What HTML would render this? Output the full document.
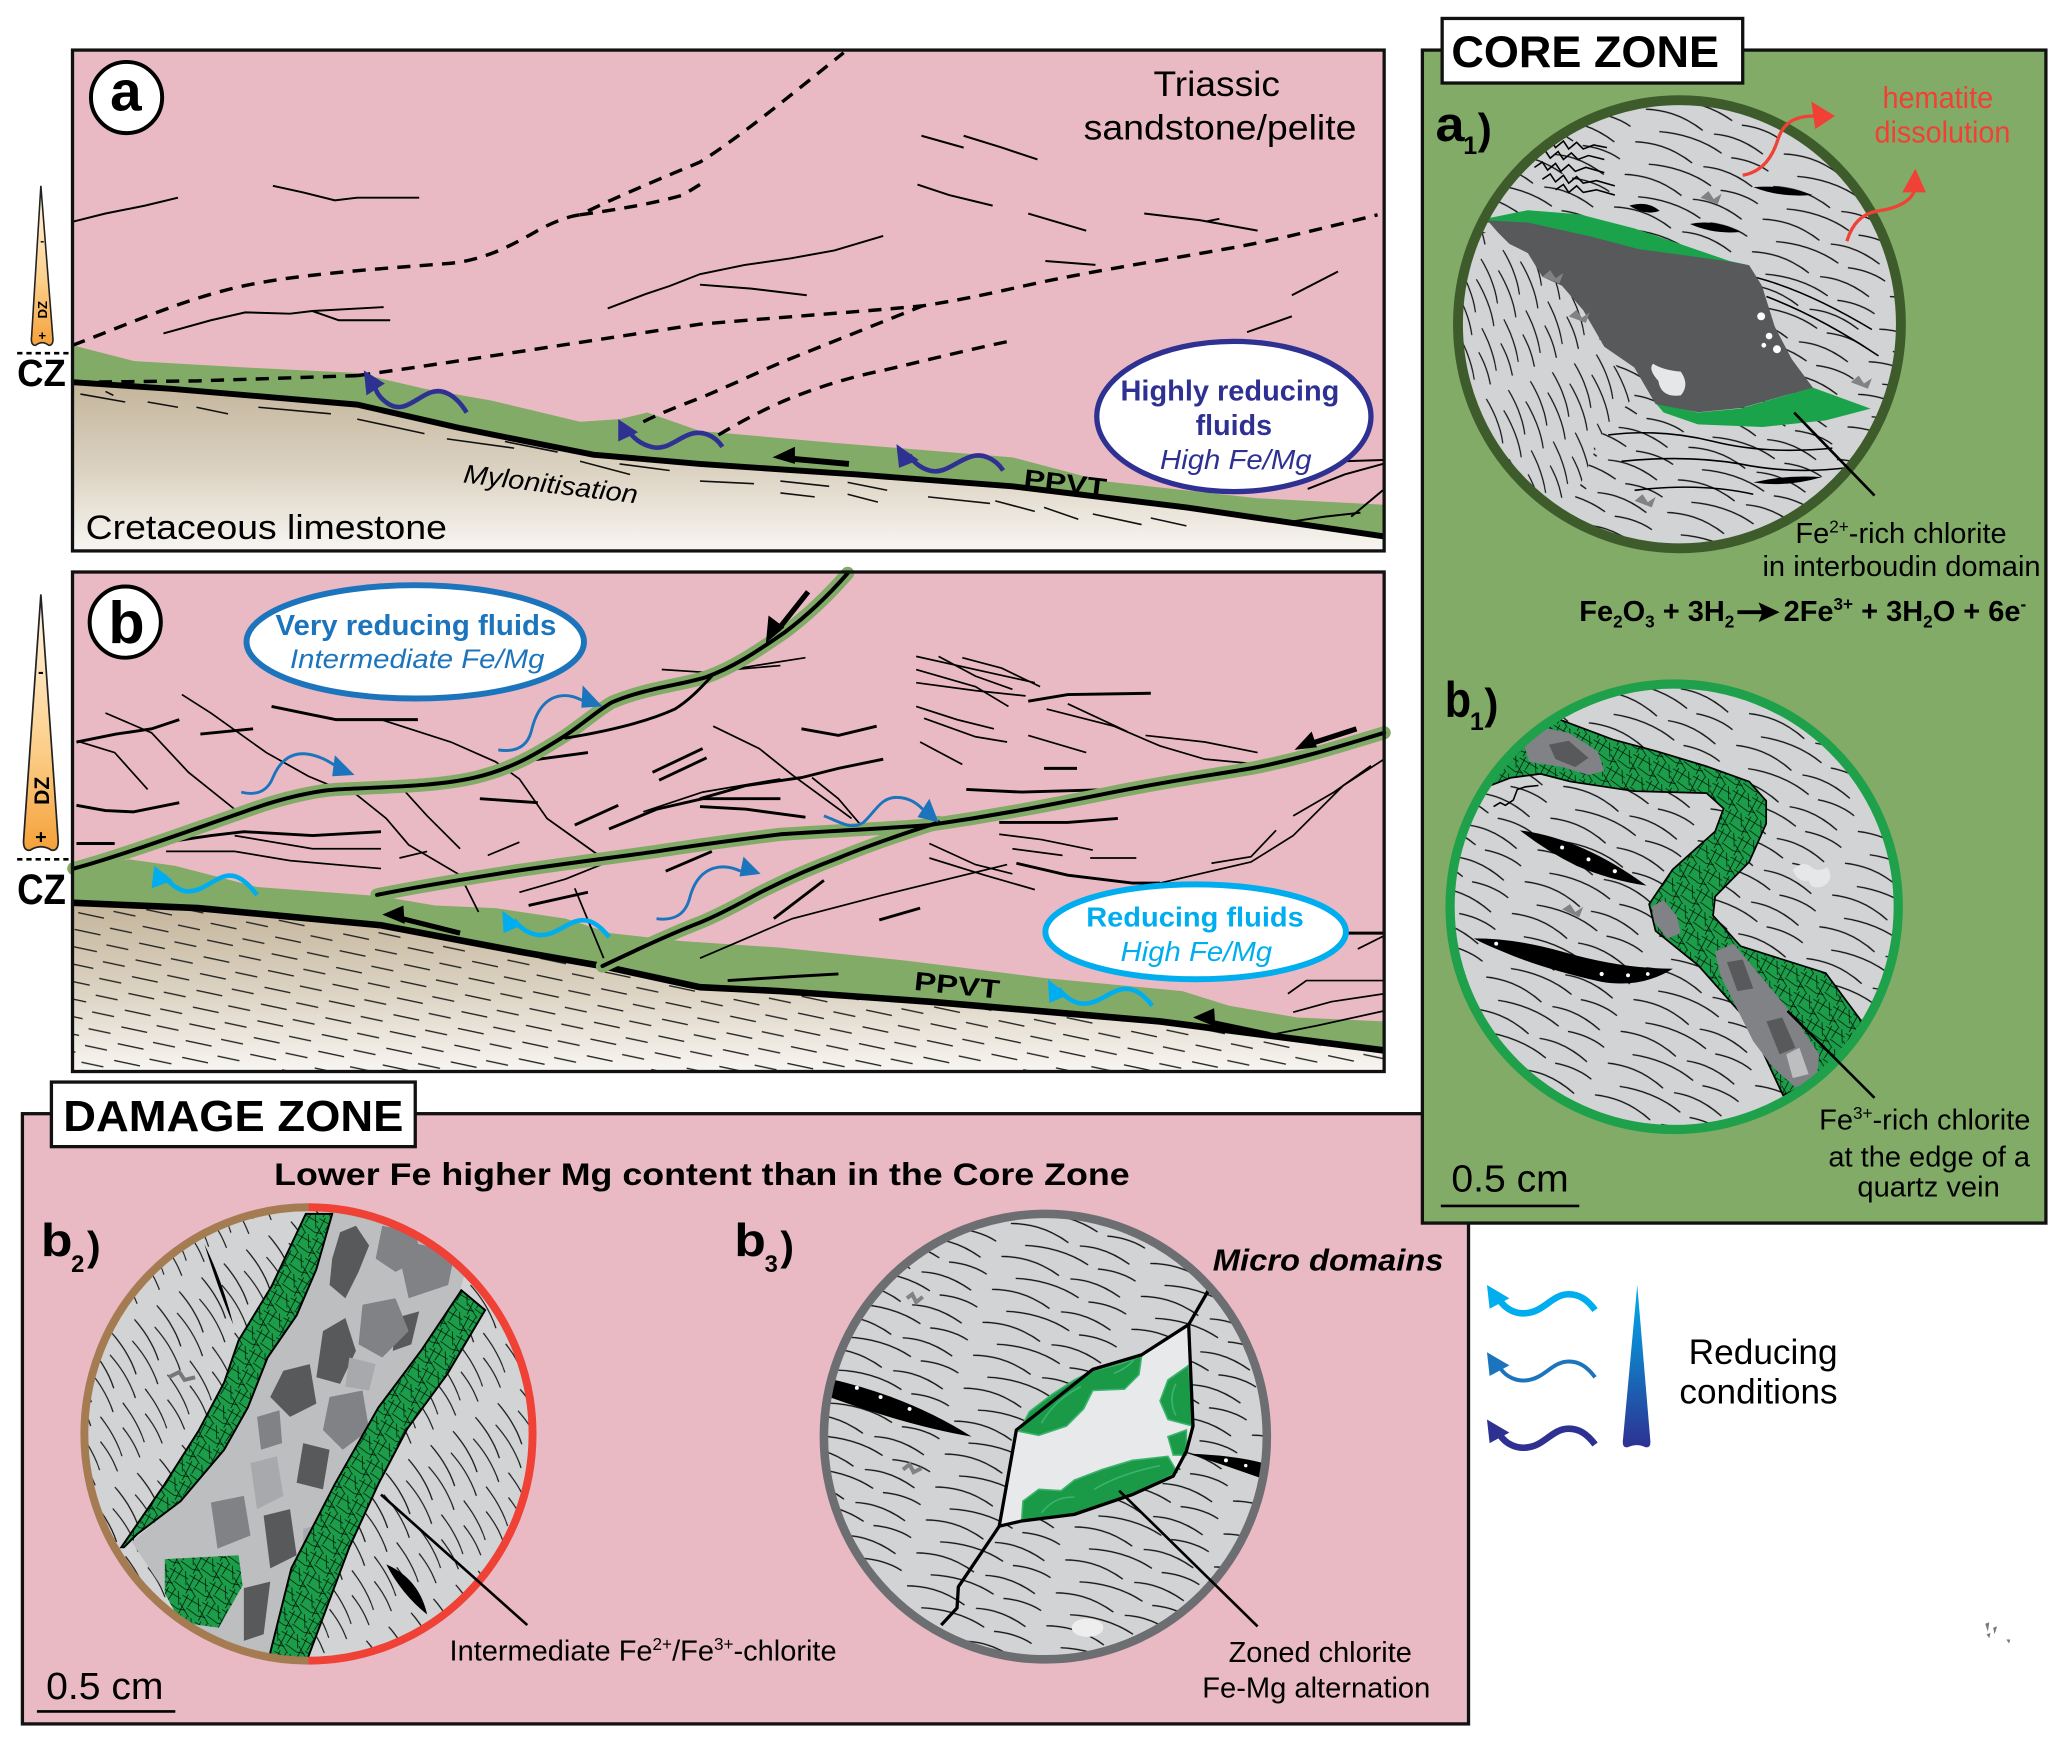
<!DOCTYPE html>
<html><head><meta charset="utf-8"><style>
html,body{margin:0;padding:0;background:#fff;}
svg{display:block;}
text{font-family:"Liberation Sans",Arial,sans-serif;}
</style></head><body>
<svg width="2067" height="1745" viewBox="0 0 1568 1324" preserveAspectRatio="none" xmlns="http://www.w3.org/2000/svg">
<defs>
<linearGradient id="limA" x1="0" y1="290" x2="0" y2="418" gradientUnits="userSpaceOnUse"><stop offset="0" stop-color="#c4b59b"/><stop offset="0.55" stop-color="#ddd4c4"/><stop offset="1" stop-color="#f8f6f2"/></linearGradient>
<linearGradient id="limB" x1="0" y1="685" x2="0" y2="813" gradientUnits="userSpaceOnUse"><stop offset="0" stop-color="#c4b59b"/><stop offset="0.55" stop-color="#ddd4c4"/><stop offset="1" stop-color="#f8f6f2"/></linearGradient>
<linearGradient id="wdg" x1="0" y1="0" x2="0" y2="1"><stop offset="0" stop-color="#fff6e6"/><stop offset="0.6" stop-color="#fccf8a"/><stop offset="1" stop-color="#f5a13a"/></linearGradient>
<linearGradient id="cone" x1="0" y1="0" x2="0" y2="1"><stop offset="0" stop-color="#00aeef"/><stop offset="0.45" stop-color="#1279c4"/><stop offset="1" stop-color="#2e3192"/></linearGradient>
<pattern id="lmd" width="50" height="13" patternUnits="userSpaceOnUse" patternTransform="rotate(12)"><path d="M2,2 h20 M28,8.5 h17" stroke="#222" stroke-width="1" fill="none"/></pattern>
<pattern id="wv18" width="110" height="26" patternUnits="userSpaceOnUse" patternTransform="rotate(18)"><path d="M3,5 c14,-4 30,-4 46,2 M58,7 c12,-3 26,-2 40,3 M18,18 c16,-4 34,-4 50,1 M76,20 c10,-2 20,-2 30,1" fill="none" stroke="#111" stroke-width="1"/></pattern>
<pattern id="wv22" width="110" height="26" patternUnits="userSpaceOnUse" patternTransform="rotate(22)"><path d="M3,5 c14,-4 30,-4 46,2 M58,7 c12,-3 26,-2 40,3 M18,18 c16,-4 34,-4 50,1 M76,20 c10,-2 20,-2 30,1" fill="none" stroke="#111" stroke-width="1"/></pattern>
<pattern id="wv16" width="110" height="26" patternUnits="userSpaceOnUse" patternTransform="rotate(16)"><path d="M3,5 c14,-4 30,-4 46,2 M58,7 c12,-3 26,-2 40,3 M18,18 c16,-4 34,-4 50,1 M76,20 c10,-2 20,-2 30,1" fill="none" stroke="#111" stroke-width="1"/></pattern>
<pattern id="wv58" width="100" height="20" patternUnits="userSpaceOnUse" patternTransform="rotate(58)"><path d="M3,4 c12,-2 24,-2 36,1 M52,5 c10,-1 22,-1 34,2 M16,14 c12,-2 26,-2 38,1 M68,15 c8,-1 16,-1 26,1" fill="none" stroke="#111" stroke-width="0.9"/></pattern>
<pattern id="wv65" width="100" height="18" patternUnits="userSpaceOnUse" patternTransform="rotate(68)"><path d="M3,4 c12,-2 24,-2 36,1 M52,5 c10,-1 22,-1 34,2 M16,13 c12,-2 26,-2 38,1 M68,14 c8,-1 16,-1 26,1" fill="none" stroke="#111" stroke-width="0.9"/></pattern>
<pattern id="ht" width="16" height="16" patternUnits="userSpaceOnUse" patternTransform="rotate(20)"><rect width="16" height="16" fill="#1b9d49"/><path d="M0,2 L16,5 M0,8 L10,16 M4,0 L2,16 M12,0 L16,10 M6,10 L16,13 M9,0 L7,9 M0,13 L6,12" stroke="#000" stroke-width="0.5" fill="none"/></pattern>
<clipPath id="cA1"><ellipse cx="1274" cy="246" rx="168" ry="170"/></clipPath>
<clipPath id="cB1"><ellipse cx="1270" cy="688" rx="170" ry="169"/></clipPath>
<clipPath id="cB2"><ellipse cx="234" cy="1088" rx="168" ry="170"/></clipPath>
<clipPath id="cB3"><ellipse cx="793" cy="1090" rx="168" ry="169"/></clipPath>
</defs>

<rect width="1568" height="1324" fill="#fff"/>

<!-- ================= PANEL A ================= -->
<rect x="55" y="38" width="995" height="380" fill="#e9bac4"/>
<path d="M55,290 L130,295 L271,307 L350,325 L450,345 L531,352 L650,360 L768,369 L900,385 L1050,407 L1050,418 L55,418 Z" fill="url(#limA)"/>
<path d="M55,262 L102,274 L190,279 L271,283 L322,295 L373,304 L440,320 L470,318 L491,313 L531,327 L633,336 L768,347 L836,365 L954,378 L1050,383 L1050,407 L900,385 L768,369 L650,360 L531,352 L450,345 L350,325 L271,307 L130,295 L55,290 Z" fill="#82ab67"/>
<g stroke="#111" stroke-width="1.2" fill="none">
<path d="M61,299 L95,305 M112,305 L135,309 M149,309 L173,314 M196,309 L251,314 M271,318 L322,329 M339,333 L390,340 M383,335 L423,343 M440,350 L478,360 M470,352 L508,357 M531,365 L572,367 M592,365 L629,369 M643,366 L673,372 M643,375 L666,381 M704,377 L751,382 M755,380 L785,388 M792,385 L818,394 M829,390 L866,398 M873,393 L900,399 M592,374 L618,377 M80,297 L86,300"/>
</g>
<path d="M55,290 L130,295 L271,307 L350,325 L450,345 L531,352 L650,360 L768,369 L900,385 L1050,407" stroke="#000" stroke-width="4.5" fill="none"/>
<g stroke="#000" stroke-width="2.6" fill="none" stroke-dasharray="10 7">
<path d="M55,262 C100,245 150,222 200,214 C240,207 300,203 339,200 C365,198 385,188 406,176 C420,168 432,164 440,163 C460,153 490,140 531,123 C560,105 600,72 640,40"/>
<path d="M440,163 C460,160 490,156 518,148 L531,140"/>
<path d="M58,290 L150,289 L271,285"/>
<path d="M271,285 C350,274 450,258 531,246 C600,240 660,236 700,232 C740,226 770,218 800,212 C860,200 930,190 970,181 C1000,174 1025,168 1045,163"/>
<path d="M488,320 C500,314 515,308 531,302 C560,290 580,280 600,272 C640,256 670,244 700,232"/>
<path d="M545,330 C565,318 585,308 600,302 C625,292 650,285 670,281 C700,274 740,264 770,258"/>
</g>
<g stroke="#000" stroke-width="1.5" fill="none">
<path d="M56,168 L80,162 L110,156 L135,150"/>
<path d="M207,141 L230,146 L254,152 L271,150 L318,150"/>
<path d="M124,253 L160,243 L186,237 L220,238 L237,236 L291,233"/>
<path d="M237,236 L257,243 L296,243"/>
<path d="M461,234 L490,223 L508,217 L531,208 L565,201 L600,196 L633,190 L670,179"/>
<path d="M531,216 L570,219 L612,224"/>
<path d="M699,103 L731,112"/><path d="M731,103 L760,112 L787,121"/>
<path d="M696,140 L720,148 L753,156"/><path d="M780,162 L824,175"/>
<path d="M868,162 L910,167 L954,175 M915,168 L925,166"/>
<path d="M793,198 L831,201"/><path d="M980,224 L1015,206"/><path d="M946,252 L980,240"/>
<path d="M1019,350 L1049,349 M992,371 L1020,360 L1049,352 M978,396 L1005,392 L1032,389 M1025,392 L1049,372"/>
</g>
<path d="M644,352 L600,348" stroke="#000" stroke-width="4.5"/>
<polygon points="586,347 603,339 603,352" fill="#000"/>
<g stroke="#2e3192" stroke-width="3.5" fill="none">
<path d="M354,313 C346,300 336,294 326,298 C314,303 306,314 294,306 C288,302 285,297 284,292"/>
<path d="M548,339 C542,330 532,326 522,330 C512,334 505,342 494,339 C486,337 480,332 477,327"/>
<path d="M761,357 C755,348 745,343 735,347 C724,351 716,360 705,357 C698,355 692,350 690,345"/>
</g>
<g fill="#2e3192">
<polygon points="276,281 278,300 292,291"/>
<polygon points="469,318 469,335 484,328"/>
<polygon points="680,337 682,355 697,349"/>
</g>
<text x="776" y="369" font-size="19" font-weight="bold" transform="rotate(6.8 776 369)" textLength="63" lengthAdjust="spacingAndGlyphs">PPVT</text>
<text x="351" y="366" font-size="20" font-style="italic" transform="rotate(6.9 351 366)" textLength="133" lengthAdjust="spacingAndGlyphs">Mylonitisation</text>
<text x="65" y="409" font-size="26" textLength="274" lengthAdjust="spacingAndGlyphs">Cretaceous limestone</text>
<text x="875" y="73" font-size="27" textLength="96" lengthAdjust="spacingAndGlyphs">Triassic</text>
<text x="822" y="106" font-size="27" textLength="207" lengthAdjust="spacingAndGlyphs">sandstone/pelite</text>
<ellipse cx="936" cy="316" rx="104" ry="57" fill="#fff" stroke="#2e3192" stroke-width="4"/>
<text x="850" y="304" font-size="22" font-weight="bold" fill="#2e3192" textLength="166" lengthAdjust="spacingAndGlyphs">Highly reducing</text>
<text x="907" y="330" font-size="22" font-weight="bold" fill="#2e3192" textLength="58" lengthAdjust="spacingAndGlyphs">fluids</text>
<text x="880" y="356" font-size="21" font-style="italic" fill="#2e3192" textLength="115" lengthAdjust="spacingAndGlyphs">High Fe/Mg</text>
<circle cx="96" cy="74" r="27" fill="#fff" stroke="#000" stroke-width="3"/>
<text x="95.5" y="84" font-size="43" font-weight="bold" text-anchor="middle">a</text>
<rect x="55" y="38" width="995" height="380" fill="none" stroke="#111" stroke-width="2.5"/>

<path d="M31,141 L24,255 Q23,262 27,262 Q32,258 37,262 Q41,262 40,255 Z" fill="url(#wdg)" stroke="#222" stroke-width="1.2"/>
<text x="32" y="186" font-size="9" text-anchor="middle" font-weight="bold">-</text>
<text x="0" y="0" font-size="10" font-weight="bold" text-anchor="middle" transform="translate(35.5 235) rotate(-90)">DZ</text>
<text x="32" y="258" font-size="10" text-anchor="middle" font-weight="bold">+</text>
<path d="M13,268 L54,268" stroke="#000" stroke-width="2" stroke-dasharray="4 3"/>
<text x="13" y="293" font-size="29" font-weight="bold" textLength="37" lengthAdjust="spacingAndGlyphs">CZ</text>

<!-- ================= PANEL B ================= -->
<rect x="55" y="434" width="995" height="379" fill="#e9bac4"/>
<path d="M56,685 L150,689 L289,702 L394,722 L457,733 L531,749 L592,752 L705,760 L880,775 L1050,797 L1050,813 L55,813 Z" fill="url(#limB)"/>
<path d="M56,685 L150,689 L289,702 L394,722 L457,733 L531,749 L592,752 L705,760 L880,775 L1050,797 L1050,813 L55,813 Z" fill="url(#lmd)"/>
<path d="M56,660 L98,652 L133,657 L195,673 L289,680 L330,687 L376,689 L429,697 L463,708 L516,714 L592,719 L688,729 L792,742 L897,752 L932,763 L984,772 L1050,775 L1050,797 L880,775 L705,760 L592,752 L531,749 L457,733 L394,722 L289,702 L150,689 L56,685 Z" fill="#82ab67"/>
<path d="M56,685 L150,689 L289,702 L394,722 L457,733 L531,749 L592,752 L705,760 L880,775 L1050,797" stroke="#000" stroke-width="5" fill="none"/>
<g stroke="#000" stroke-width="2.2" fill="none">
<path d="M58,563 L88,557 L115,553 L136,546"/>
<path d="M152,557 L192,553"/>
<path d="M206,536 L235,542 L255,546 L317,546"/>
<path d="M58,611 L80,615 L101,616 L136,609"/>
<path d="M126,639 L160,634 L185,631 L237,634 L289,631"/>
<path d="M364,606 L408,609"/><path d="M394,578 L446,571"/><path d="M401,687 L446,677"/>
<path d="M436,626 L469,611"/>
<path d="M462,629 L498,614 L533,606 L592,606"/>
<path d="M495,586 L533,568 M500,592 L536,575"/>
<path d="M505,661 L540,646"/>
<path d="M608,553 L636,558 L665,551"/>
<path d="M531,606 L566,596 L608,590 L636,583 L670,576"/>
<path d="M531,612 L566,614 L611,620"/>
<path d="M780,532 L810,527 L873,526"/>
<path d="M792,583 L817,583"/>
<path d="M733,599 L775,601 L845,599"/>
<path d="M758,624 L810,624 L848,621"/>
<path d="M771,655 L810,664 L859,670 L880,670"/>
<path d="M625,668 L587,697"/><path d="M667,698 L698,689"/>
<path d="M1022,708 L1050,708"/>
<path d="M552,744 L600,741 L636,739"/>
<path d="M58,640 L87,640"/>
</g>
<g stroke="#000" stroke-width="1.3" fill="none">
<path d="M178,634 L237,644 L289,644"/>
<path d="M126,646 L178,646 L220,653 L289,659"/>
<path d="M488,616 L533,601 L592,591"/>
<path d="M502,508 L533,510 L592,505"/>
<path d="M370,649 L394,639"/><path d="M394,677 L429,667 L481,646"/><path d="M303,651 L324,646"/>
<path d="M531,512 L573,505 L611,499"/>
<path d="M977,754 L991,744 L1050,744"/><path d="M981,768 L1010,760 L1050,754"/><path d="M960,786 L1000,778 L1050,767"/>
<path d="M880,670 L949,654 L981,634 L1019,596 L1050,576"/>
<path d="M981,619 L1012,601 L1040,581"/>
<path d="M919,655 L949,650 L968,630"/>
<path d="M61,563 L87,571 L112,599"/>
<path d="M80,541 L115,556 L143,586 L178,614"/>
<path d="M138,527 L160,541 L202,571 L234,589 L258,599"/>
<path d="M289,546 L342,563 L376,578 L394,591 L415,621 L457,651"/>
<path d="M268,601 L293,621 L310,641 L349,664 L363,692"/>
<path d="M305,598 L324,619 L349,644"/>
<path d="M436,674 L460,732"/>
<path d="M541,551 L576,568 L601,588 L646,621"/>
<path d="M616,590 L636,606 L653,626"/>
<path d="M695,498 L740,508 L785,518"/><path d="M712,498 L740,513 L768,523"/><path d="M730,499 L760,507 L789,521"/>
<path d="M695,508 L740,521 L765,536"/><path d="M695,518 L740,524 L778,528"/>
<path d="M695,536 L726,546 L754,553"/><path d="M701,545 L740,559 L764,563"/>
<path d="M698,563 L730,580"/><path d="M780,558 L824,571"/>
<path d="M794,538 L845,551 L880,566 L914,576 L967,581"/><path d="M810,534 L855,555"/>
<path d="M869,558 L914,563 L954,571"/>
<path d="M758,633 L790,637 L829,645"/>
<path d="M705,651 L747,664 L785,675"/><path d="M705,640 L740,656 L768,663"/>
<path d="M531,727 L601,697 L670,679 L764,656"/>
<path d="M768,644 L806,649"/><path d="M827,651 L862,651"/>
<path d="M1030,720 L1050,710"/>
</g>
<g fill="none" stroke-linecap="round">
<g stroke="#82ab67" stroke-width="10">
<path d="M56,659 C90,650 150,628 185,616 C215,605 240,600 255,599 C290,597 330,597 360,590 C390,583 410,570 429,558 C445,547 455,538 464,533 C490,522 515,520 535,514 C560,505 580,490 595,480 C615,465 630,450 643,435"/>
<path d="M286,679 C320,672 359,666 390,661 C430,655 470,650 498,646 C530,641 560,637 592,633 C640,630 680,628 705,626 C760,618 800,610 845,601 C890,592 920,588 949,583 C990,575 1020,565 1050,556"/>
<path d="M457,733 C480,722 510,708 531,700 C555,690 570,680 583,674 C605,663 620,657 636,651 C660,641 690,631 712,624"/>
</g>
<g stroke="#000" stroke-width="3">
<path d="M56,659 C90,650 150,628 185,616 C215,605 240,600 255,599 C290,597 330,597 360,590 C390,583 410,570 429,558 C445,547 455,538 464,533 C490,522 515,520 535,514 C560,505 580,490 595,480 C615,465 630,450 643,435"/>
<path d="M286,679 C320,672 359,666 390,661 C430,655 470,650 498,646 C530,641 560,637 592,633 C640,630 680,628 705,626 C760,618 800,610 845,601 C890,592 920,588 949,583 C990,575 1020,565 1050,556"/>
<path d="M457,733 C480,722 510,708 531,700 C555,690 570,680 583,674 C605,663 620,657 636,651 C660,641 690,631 712,624"/>
<path d="M429,560 C460,555 490,548 512,538 C525,530 535,518 540,513" stroke-width="2.2"/>
</g>
</g>
<g stroke="#000" stroke-width="4">
<path d="M613,449 L590,478"/><path d="M1029,553 L995,564"/><path d="M963,785 L920,776"/><path d="M349,708 L305,697"/>
</g>
<g fill="#000">
<polygon points="581,488 583,467 595,476"/>
<polygon points="982,569 995,555 999,567"/>
<polygon points="905,772 921,765 922,779"/>
<polygon points="290,694 306,687 307,701"/>
</g>
<g stroke="#1c75bc" stroke-width="2.2" fill="none">
<path d="M183,601 C195,604 203,600 207,590 C212,578 220,571 232,572 C242,573 250,578 256,582"/>
<path d="M378,569 C392,571 400,566 403,555 C406,542 412,530 425,528 C432,527 437,529 443,532"/>
<path d="M498,697 C512,699 520,693 523,682 C526,670 532,660 545,658 C552,657 557,659 562,661"/>
<path d="M625,619 C638,624 646,630 655,624 C664,616 668,605 680,605 C690,605 696,610 700,614"/>
</g>
<g fill="#1c75bc">
<polygon points="254,573 269,588 252,589"/>
<polygon points="442,520 457,536 441,537"/>
<polygon points="564,650 577,663 561,665"/>
<polygon points="705,606 712,624 696,620"/>
</g>
<g stroke="#00aeef" stroke-width="3.5" fill="none">
<path d="M195,679 C188,670 180,662 170,665 C160,668 152,678 140,676 C132,674 127,668 124,664"/>
<path d="M462,711 C455,702 447,696 437,699 C427,702 418,712 406,709 C398,707 393,702 390,698"/>
<path d="M874,763 C867,754 859,748 849,751 C839,754 830,764 818,761 C811,759 806,754 803,750"/>
</g>
<g fill="#00aeef">
<polygon points="117,657 115,674 131,668"/>
<polygon points="381,691 382,708 396,702"/>
<polygon points="795,743 796,761 810,755"/>
</g>
<text x="693" y="751" font-size="20" font-weight="bold" transform="rotate(6 693 751)" textLength="65" lengthAdjust="spacingAndGlyphs">PPVT</text>
<ellipse cx="315" cy="487" rx="128" ry="43" fill="#fff" stroke="#1c75bc" stroke-width="4.5"/>
<text x="209" y="482" font-size="22" font-weight="bold" fill="#1c75bc" textLength="213" lengthAdjust="spacingAndGlyphs">Very reducing fluids</text>
<text x="220" y="507" font-size="20" font-style="italic" fill="#1c75bc" textLength="193" lengthAdjust="spacingAndGlyphs">Intermediate Fe/Mg</text>
<ellipse cx="907" cy="707" rx="114" ry="36" fill="#fff" stroke="#00aeef" stroke-width="4.5"/>
<text x="824" y="703" font-size="21" font-weight="bold" fill="#00aeef" textLength="165" lengthAdjust="spacingAndGlyphs">Reducing fluids</text>
<text x="850" y="729" font-size="21" font-style="italic" fill="#00aeef" textLength="115" lengthAdjust="spacingAndGlyphs">High Fe/Mg</text>
<circle cx="95" cy="472" r="27" fill="#fff" stroke="#000" stroke-width="3"/>
<text x="96" y="488" font-size="45" font-weight="bold" text-anchor="middle">b</text>
<rect x="55" y="434" width="995" height="379" fill="none" stroke="#111" stroke-width="2.5"/>

<path d="M31,451 L18,636 Q17,646 23,645 Q31,640 39,645 Q45,646 44,636 Z" fill="url(#wdg)" stroke="#222" stroke-width="1.3"/>
<text x="31" y="514" font-size="13" text-anchor="middle" font-weight="bold">-</text>
<text x="0" y="0" font-size="16" font-weight="bold" text-anchor="middle" transform="translate(37 600) rotate(-90)">DZ</text>
<text x="31" y="640" font-size="15" text-anchor="middle" font-weight="bold">+</text>
<path d="M13,652 L54,652" stroke="#000" stroke-width="2" stroke-dasharray="4 3"/>
<text x="13" y="686" font-size="32" font-weight="bold" textLength="37" lengthAdjust="spacingAndGlyphs">CZ</text>

<!-- ================= DAMAGE ZONE ================= -->
<rect x="17" y="845" width="1097" height="463" fill="#e9bac4" stroke="#111" stroke-width="2.5"/>
<rect x="39" y="821" width="276" height="49" fill="#fff" stroke="#111" stroke-width="2.5"/>
<text x="48" y="858" font-size="33" font-weight="bold" textLength="258" lengthAdjust="spacingAndGlyphs">DAMAGE ZONE</text>
<text x="208" y="899" font-size="24" font-weight="bold" textLength="649" lengthAdjust="spacingAndGlyphs">Lower Fe higher Mg content than in the Core Zone</text>

<text x="31" y="953" font-size="35" font-weight="bold" textLength="24" lengthAdjust="spacingAndGlyphs">b</text>
<text x="54" y="965" font-size="18" font-weight="bold">2</text>
<text x="66" y="956" font-size="31" font-weight="bold">)</text>
<g clip-path="url(#cB2)">
<rect x="60" y="910" width="350" height="360" fill="#d1d3d4"/>
<rect x="60" y="910" width="350" height="360" fill="url(#wv58)"/>
<polygon points="252,915 360,940 349,979 320,1024 287,1068 254,1126 221,1190 203,1262 180,1262 140,1230 100,1170 136,1139 170,1100 188,1068 203,1030 225,998 240,963" fill="#bcbec0"/>
<g fill="#58595b">
<polygon points="258,935 270,930 280,945 272,965 262,985 250,975 252,955"/>
<polygon points="245,1010 262,1000 270,1025 258,1050 240,1045"/>
<polygon points="215,1040 235,1035 240,1065 220,1075 205,1060"/>
<polygon points="230,1095 250,1100 245,1130 225,1125"/>
<polygon points="200,1150 220,1145 225,1180 205,1190"/>
<polygon points="185,1205 205,1200 200,1240 185,1245"/>
<polygon points="300,1000 318,995 312,1020 298,1025"/>
</g>
<g fill="#808285">
<polygon points="290,930 315,935 320,955 300,965 285,955"/>
<polygon points="275,990 300,985 310,1010 290,1030 272,1020"/>
<polygon points="250,1060 275,1055 280,1085 260,1100 245,1085"/>
<polygon points="160,1140 185,1135 190,1165 165,1175"/>
<polygon points="215,1210 230,1205 225,1245 212,1245"/>
<polygon points="300,940 345,950 340,975 310,985"/>
<polygon points="195,1075 212,1070 214,1095 198,1100"/>
</g>
<g fill="#a7a9ac">
<polygon points="190,1110 210,1105 215,1135 195,1145"/>
<polygon points="265,1030 285,1035 280,1055 262,1052"/>
<polygon points="230,1160 248,1155 246,1185 230,1190"/>
</g>
<path d="M92,1174 L125,1126 L151,1085 L170,1049 L181,1017 L206,976 L232,921 L252,921 L240,963 L225,998 L203,1030 L188,1068 L170,1100 L137,1139 L104,1164 L94,1174 Z" fill="url(#ht)" stroke="#000" stroke-width="1.5"/>
<path d="M203,1262 L221,1190 L254,1126 L287,1068 L320,1024 L350,979 L368,994 L339,1043 L309,1084 L287,1126 L265,1174 L232,1262 Z" fill="url(#ht)" stroke="#000" stroke-width="1.5"/>
<polygon points="125,1183 181,1180 184,1203 166,1235 137,1231 125,1209" fill="url(#ht)"/>
<path d="M155,944 Q168,970 177,1005 Q168,985 155,944 Z" fill="#000"/>
<path d="M293,1187 Q318,1198 324,1225 Q305,1210 293,1187 Z" fill="#000"/>
<path d="M128,1045 l8,-4 l4,6 l8,-2" stroke="#777" stroke-width="3" fill="none"/>
</g>
<path d="M234,916 A170,172 0 0 0 234,1260" fill="none" stroke="#a57c52" stroke-width="6"/>
<path d="M234,916 A170,172 0 0 1 234,1260" fill="none" stroke="#ef4136" stroke-width="6"/>
<path d="M289,1134 L400,1233" stroke="#000" stroke-width="2"/>
<text x="341" y="1260" font-size="22">Intermediate Fe<tspan font-size="13" dy="-8">2+</tspan><tspan dy="8">/Fe</tspan><tspan font-size="13" dy="-8">3+</tspan><tspan dy="8">-chlorite</tspan></text>
<text x="35" y="1289" font-size="29" textLength="89" lengthAdjust="spacingAndGlyphs">0.5 cm</text>
<path d="M28,1298.5 L133,1298.5" stroke="#000" stroke-width="2"/>

<text x="557" y="953" font-size="35" font-weight="bold" textLength="24" lengthAdjust="spacingAndGlyphs">b</text>
<text x="580" y="965" font-size="18" font-weight="bold">3</text>
<text x="592" y="956" font-size="31" font-weight="bold">)</text>
<g clip-path="url(#cB3)">
<rect x="620" y="915" width="350" height="350" fill="#d1d3d4"/>
<rect x="620" y="915" width="350" height="350" fill="url(#wv16)"/>
<path d="M629,1046 Q690,1060 737,1090 Q690,1082 629,1060 Z" fill="#000"/>
<path d="M902,1103 Q935,1104 958,1110 L958,1122 Q930,1112 902,1103 Z" fill="#000"/>
<g fill="#fff"><circle cx="650" cy="1053" r="1.5"/><circle cx="668" cy="1060" r="1.5"/><circle cx="690" cy="1069" r="1.5"/><circle cx="930" cy="1108" r="1.5"/><circle cx="945" cy="1112" r="1.3"/></g>
<path d="M915,982 L901.7,1005 L866,1028 L829,1039 L771,1085 L758,1158 L775,1154 L815,1149 L859,1134 L890,1120 L900,1101 L905,1082 L901.7,1005 Z" fill="#e8e9ea"/>
<g fill="#1a9a47" stroke="#3cb36f" stroke-width="1.2">
<path d="M773,1086 L781,1071 L798,1058 L815,1047 L829,1040 L849,1035 L866,1029 L864,1043 L853,1054 L829,1055 L822,1069 L809,1082 L788,1089 Z"/>
<path d="M901.7,1036 L886,1047 L880,1063 L886,1077 L905,1082 Z"/>
<path d="M886,1090 L900,1085 L900,1104 L890,1104 Z"/>
<path d="M775,1154 L776,1139 L788,1130 L805,1131 L815,1123 L836,1115 L859,1108 L886,1105 L893,1117 L859,1134 L815,1149 Z"/>
</g>
<g fill="none" stroke="#3cb36f" stroke-width="1.2">
<path d="M790,1080 Q800,1062 820,1052"/><path d="M845,1042 Q855,1038 860,1032"/>
<path d="M892,1050 Q886,1062 892,1074"/><path d="M790,1148 Q800,1135 815,1136"/><path d="M830,1130 Q850,1118 880,1112"/>
</g>
<path d="M917,980 L915,982 L901.7,1005 L866,1028 L829,1039 L771,1085 L758,1158 L775,1154 L815,1149 L859,1134 L890,1120 L900,1101 L905,1082 L901.7,1005 M758,1158 L754,1164 L727,1204 L726,1220 L714,1233" fill="none" stroke="#000" stroke-width="2.5"/>
<path d="M915,982 L925,962" stroke="#000" stroke-width="2.5"/>
<path d="M688,985 l4,-3 l3,6 l5,-4" stroke="#808285" stroke-width="3" fill="none"/>
<path d="M685,1115 l5,-4 l3,6 l6,-3" stroke="#808285" stroke-width="3" fill="none"/>
<ellipse cx="825" cy="1235" rx="12" ry="7" fill="#eee"/>
</g>
<ellipse cx="793" cy="1090" rx="168" ry="169" fill="none" stroke="#6d6e71" stroke-width="6.5"/>
<path d="M849,1131 L954,1234" stroke="#000" stroke-width="2"/>
<text x="920" y="964" font-size="23" font-weight="bold" font-style="italic" textLength="175" lengthAdjust="spacingAndGlyphs">Micro domains</text>
<text x="932" y="1261" font-size="22" textLength="139" lengthAdjust="spacingAndGlyphs">Zoned chlorite</text>
<text x="912" y="1288" font-size="22" textLength="173" lengthAdjust="spacingAndGlyphs">Fe-Mg alternation</text>

<!-- ================= CORE ZONE ================= -->
<rect x="1079" y="38" width="473" height="890" fill="#82ab67" stroke="#111" stroke-width="2.5"/>
<rect x="1094" y="14" width="228" height="49" fill="#fff" stroke="#111" stroke-width="2.5"/>
<text x="1101" y="51" font-size="34" font-weight="bold" textLength="203" lengthAdjust="spacingAndGlyphs">CORE ZONE</text>

<text x="1089" y="107" font-size="37" font-weight="bold" textLength="22" lengthAdjust="spacingAndGlyphs">a</text>
<text x="1110" y="117" font-size="19" font-weight="bold">1</text>
<text x="1121" y="109" font-size="32" font-weight="bold">)</text>
<g clip-path="url(#cA1)">
<rect x="1100" y="70" width="350" height="355" fill="#d1d3d4"/>
<rect x="1100" y="70" width="350" height="355" fill="url(#wv18)"/>
<path d="M1103,182 L1130,176 L1159,192 L1185,217 L1201,235 L1217,263 L1240,300 L1215,330 L1185,400 L1103,420 Z" fill="#d1d3d4"/>
<path d="M1103,182 L1130,176 L1159,192 L1185,217 L1201,235 L1217,263 L1240,300 L1215,330 L1185,400 L1103,420 Z" fill="url(#wv65)"/>
<g fill="none" stroke="#000" stroke-width="1.2">
<path d="M1170,110 l6,-4 l4,6 l6,-5 l4,6 l6,-5 l5,5 l8,-3 l10,2"/>
<path d="M1166,118 l6,-4 l4,6 l6,-5 l4,6 l6,-5 l5,5 l8,-3 l12,3"/>
<path d="M1164,127 l6,-4 l4,6 l6,-5 l4,6 l6,-5 l5,5 l8,-3 l14,4"/>
<path d="M1170,136 l6,-4 l4,6 l6,-5 l4,6 l6,-5 l5,5 l10,-2 l14,4"/>
<path d="M1180,144 l6,-4 l4,6 l6,-5 l5,5 l10,-2 l14,4"/>
<path d="M1220,330 Q1260,325 1300,335 Q1340,345 1390,340"/>
<path d="M1230,350 Q1280,345 1320,352 Q1360,360 1400,355"/>
<path d="M1240,372 Q1290,366 1330,375"/>
<path d="M1330,210 Q1370,220 1420,250"/><path d="M1340,225 Q1380,240 1425,270"/>
</g>
<path d="M1236,156 Q1250,152 1259,160 Q1248,164 1236,156 Z" fill="#000"/>
<path d="M1282,170 Q1300,166 1320,176 Q1300,178 1282,170 Z" fill="#000"/>
<path d="M1330,142 Q1355,140 1375,148 Q1350,150 1330,142 Z" fill="#000"/>
<path d="M1330,366 Q1355,360 1382,362 Q1355,370 1330,366 Z" fill="#000"/>
<path d="M1127,166 L1159,159.5 L1198,162.6 L1240,173.4 L1272,184.3 L1312,198 L1327,201.3 L1243,190 L1207.5,180 L1159,169 L1128,169 Z" fill="#1aa34a"/>
<path d="M1256,306 L1288,313 L1320,310 L1375,294 L1419,310 L1385,319 L1337,324 L1288,322 L1262,313 Z" fill="#1aa34a"/>
<path d="M1128.4,167.2 L1159,168.8 L1207.5,179.6 L1243,189 L1310.8,198.2 L1326.9,201.3 L1336.6,216.8 L1346.3,247.8 L1359.2,272.5 L1375.3,294.2 L1352.7,300.4 L1320.4,309.7 L1288.2,312.8 L1255.9,306.6 L1239.7,278.7 L1217.1,263.2 L1201,235.4 L1184.9,216.8 L1170,210 L1159,192 L1145,185 L1136.4,176.5 Z" fill="#58595b"/>
<path d="M1258,289 Q1250,280 1254,276 Q1262,281 1275,282 Q1282,292 1275,300 Q1260,302 1258,289 Z" fill="#e6e7e8"/>
<g fill="#fff"><circle cx="1336" cy="240" r="3"/><circle cx="1342" cy="255" r="2.5"/><circle cx="1348" cy="265" r="3"/><circle cx="1338" cy="262" r="1.8"/></g>
<g fill="#808285"><path d="M1170,210 l6,-5 l4,6 l6,-4 l-3,8 z"/><path d="M1190,240 l6,-5 l4,6 l6,-4 l-3,8 z"/><path d="M1240,380 l6,-5 l4,6 l6,-4 l-3,8 z"/><path d="M1404,290 l6,-5 l4,6 l6,-4 l-3,8 z"/><path d="M1290,150 l6,-5 l4,6 l6,-4 l-3,8 z"/></g>
</g>
<ellipse cx="1274" cy="246" rx="168" ry="170" fill="none" stroke="#3e5c2b" stroke-width="7.5"/>
<path d="M1361,313 L1422,376" stroke="#000" stroke-width="2"/>
<g stroke="#ef4136" stroke-width="2.5" fill="none">
<path d="M1322,133 C1338,130 1345,118 1349,105 C1353,93 1362,88 1376,88"/>
<path d="M1401,183 C1405,170 1412,162 1425,160 C1440,158 1450,152 1452,145"/>
</g>
<g fill="#ef4136">
<polygon points="1392,88 1374,77 1377,98"/>
<polygon points="1453,128 1443,146 1461,146"/>
</g>
<text x="1428" y="82" font-size="23" fill="#ef4136" textLength="84" lengthAdjust="spacingAndGlyphs">hematite</text>
<text x="1422" y="108" font-size="23" fill="#ef4136" textLength="103" lengthAdjust="spacingAndGlyphs">dissolution</text>
<text x="1362" y="412" font-size="22">Fe<tspan font-size="13" dy="-8">2+</tspan><tspan dy="8">-rich chlorite</tspan></text>
<text x="1337" y="437" font-size="22" textLength="211" lengthAdjust="spacingAndGlyphs">in interboudin domain</text>
<text x="1198" y="471" font-size="22" font-weight="bold">Fe<tspan font-size="13" dy="5">2</tspan><tspan dy="-5">O</tspan><tspan font-size="13" dy="5">3</tspan><tspan dy="-5"> + 3H</tspan><tspan font-size="13" dy="5">2</tspan></text>
<path d="M1318,464.5 L1338,464.5" stroke="#000" stroke-width="3"/>
<polygon points="1350,464.5 1334,457 1337,464.5 1334,472" fill="#000"/>
<text x="1353" y="471" font-size="22" font-weight="bold">2Fe<tspan font-size="13" dy="-8">3+</tspan><tspan dy="8"> + 3H</tspan><tspan font-size="13" dy="5">2</tspan><tspan dy="-5">O + 6e</tspan><tspan font-size="13" dy="-8">-</tspan></text>

<text x="1096" y="544" font-size="38" font-weight="bold" textLength="20" lengthAdjust="spacingAndGlyphs">b</text>
<text x="1115" y="554" font-size="19" font-weight="bold">1</text>
<text x="1126" y="545" font-size="32" font-weight="bold">)</text>
<g clip-path="url(#cB1)">
<rect x="1095" y="515" width="350" height="350" fill="#d1d3d4"/>
<rect x="1095" y="515" width="350" height="350" fill="url(#wv22)"/>
<path d="M1153,630 Q1200,636 1249,672 Q1222,668 1196,657 Q1172,645 1153,630 Z" fill="#000"/>
<path d="M1118,712 Q1150,712 1185,722 Q1230,735 1269,735 Q1245,750 1215,745 Q1170,735 1140,722 Q1125,716 1118,712 Z" fill="#000"/>
<g fill="#fff"><circle cx="1185" cy="643" r="1.5"/><circle cx="1205" cy="652" r="1.5"/><circle cx="1225" cy="661" r="1.6"/><circle cx="1135" cy="716" r="1.5"/><circle cx="1215" cy="739" r="1.6"/><circle cx="1235" cy="740" r="1.5"/><circle cx="1250" cy="739" r="1.4"/></g>
<path d="M1152.6,569.8 L1170,540 L1184.9,546.6 L1223.6,561.1 L1255.9,569.8 L1294.6,581.4 L1326.9,593 L1339.8,607.6 L1339.8,625 L1326.9,654 L1301.1,680.2 L1299.5,694.7 L1320.4,717.9 L1385,738.3 L1410.8,773.1 L1420,800 L1352.7,831.2 L1326.9,776 L1288.2,732.4 L1255.9,706.3 L1251,686 L1268.8,659.8 L1301.1,630.8 L1307.5,613.4 L1294.6,601.8 L1239.7,600.3 L1191.3,593 L1168.7,587.2 L1146.1,590.1 L1120,600 Z" fill="url(#ht)" stroke="#000" stroke-width="1.3"/>
<polygon points="1156,565 1170,552 1190,556 1212,570 1217,585 1205,588 1185,582 1160,578" fill="#808285"/>
<polygon points="1175,565 1190,562 1205,575 1195,582 1180,576" fill="#58595b"/>
<polygon points="1253,688 1262,683 1272,695 1275,708 1265,712 1255,700" fill="#808285"/>
<polygon points="1301,722 1315,716 1335,740 1360,770 1380,800 1378,820 1362,825 1345,810 1330,790 1315,760 1305,740" fill="#808285"/>
<polygon points="1310,730 1322,728 1330,750 1318,752" fill="#58595b"/>
<polygon points="1340,775 1352,772 1362,795 1350,800" fill="#58595b"/>
<polygon points="1355,800 1365,795 1372,815 1360,818" fill="#bcbec0"/>
<path d="M1133,612 l5,-3 l4,2 l6,-4 l3,-8 l6,-2 l10,-1" stroke="#000" stroke-width="1.2" fill="none"/>
<path d="M1360,660 q8,-8 14,-2 q6,4 12,0 q6,8 -2,14 q-10,4 -12,-4 q-8,2 -12,-8 z" fill="#e6e7e8"/>
<path d="M1185,690 l6,-4 l4,6 l6,-4 l-3,8 z" fill="#808285"/>
</g>
<ellipse cx="1270" cy="688" rx="170" ry="169" fill="none" stroke="#1fa04a" stroke-width="7"/>
<path d="M1356,767 L1422,833" stroke="#000" stroke-width="2"/>
<text x="1380" y="857" font-size="22">Fe<tspan font-size="13" dy="-8">3+</tspan><tspan dy="8">-rich chlorite</tspan></text>
<text x="1387" y="885" font-size="22" textLength="153" lengthAdjust="spacingAndGlyphs">at the edge of a</text>
<text x="1409" y="908" font-size="22" textLength="108" lengthAdjust="spacingAndGlyphs">quartz vein</text>
<text x="1101" y="904" font-size="29" textLength="89" lengthAdjust="spacingAndGlyphs">0.5 cm</text>
<path d="M1093,915 L1198,915" stroke="#000" stroke-width="2"/>

<!-- ================= LEGEND ================= -->
<g fill="none">
<path d="M1210,994 C1204,986 1198,982 1190,982 C1178,982 1172,994 1160,996 C1150,998 1142,993 1138,987" stroke="#00aeef" stroke-width="5"/>
<path d="M1210,1045 C1204,1037 1198,1033 1190,1033 C1178,1033 1172,1045 1160,1047 C1150,1049 1142,1044 1138,1038" stroke="#1c75bc" stroke-width="3"/>
<path d="M1210,1096 C1204,1088 1198,1084 1190,1084 C1178,1084 1172,1096 1160,1098 C1150,1100 1142,1095 1138,1089" stroke="#2e3192" stroke-width="5"/>
</g>
<polygon points="1128,975 1130,993 1145,985" fill="#00aeef"/>
<polygon points="1128,1026 1130,1044 1145,1036" fill="#1c75bc"/>
<polygon points="1128,1077 1130,1095 1145,1087" fill="#2e3192"/>
<path d="M1242,975 L1252,1094 Q1252,1099 1248,1098 Q1242,1095 1235,1098 Q1231,1099 1231,1094 Z" fill="url(#cone)"/>
<text x="1281" y="1035" font-size="27" textLength="113" lengthAdjust="spacingAndGlyphs">Reducing</text>
<text x="1274" y="1065" font-size="27" textLength="120" lengthAdjust="spacingAndGlyphs">conditions</text>
<g fill="#777"><polygon points="1506,1232 1509,1231 1508,1238"/><polygon points="1512,1235 1515,1234 1513,1240"/><polygon points="1507,1240 1510,1239 1509,1243"/><polygon points="1522,1244 1525,1244 1524,1247"/></g>
</svg>
</body></html>
